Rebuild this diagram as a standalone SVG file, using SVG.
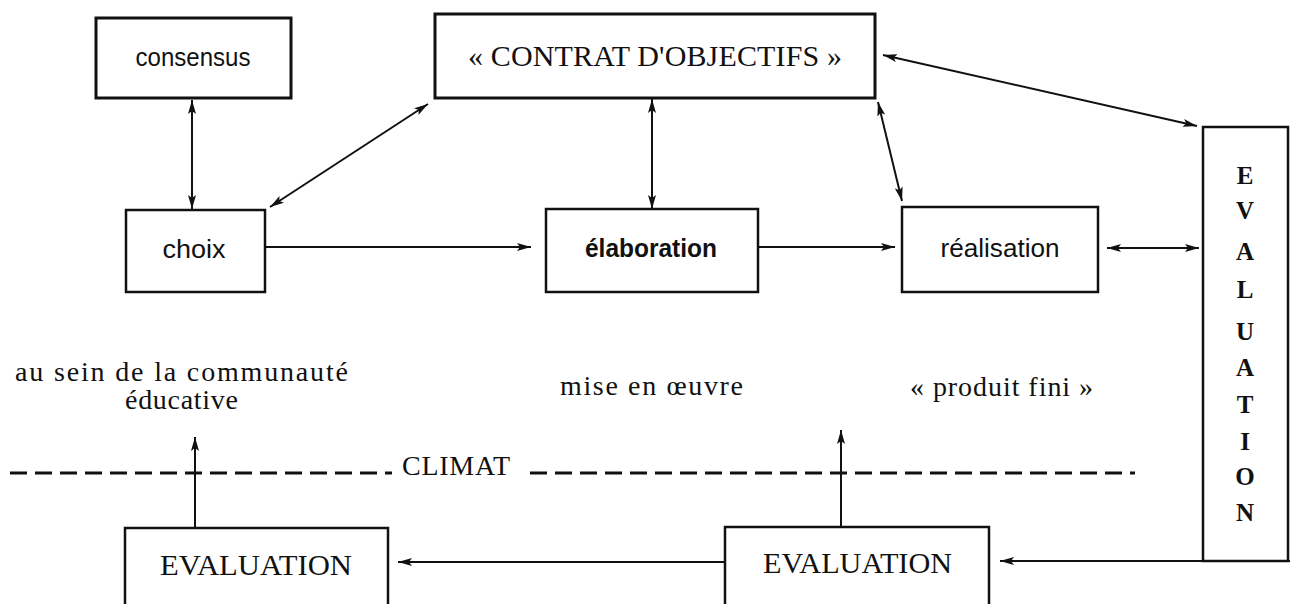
<svg xmlns="http://www.w3.org/2000/svg" width="1290" height="604" viewBox="0 0 1290 604">
<style>
.box{fill:#fff;stroke:#111;stroke-width:2.5}
.thick{stroke-width:3}
.lbl{font-family:"Liberation Sans",Arial,sans-serif;font-size:26px;fill:#111;text-anchor:middle}
.ser{font-family:"Liberation Serif","Times New Roman",serif;font-size:28px;fill:#111}
.big{font-size:30px}
.vert{font-family:"Liberation Serif","Times New Roman",serif;font-size:25px;font-weight:bold;fill:#111;text-anchor:middle}
.ln{fill:none;stroke:#111;stroke-width:2}
.dash{fill:none;stroke:#111;stroke-width:3;stroke-dasharray:17 8}
</style>
<defs>
<marker id="ah" viewBox="0 0 14 8" refX="14" refY="4" markerWidth="14" markerHeight="8" markerUnits="userSpaceOnUse" orient="auto-start-reverse">
<path d="M0,0 L14,4 L0,8 L3,4 Z" fill="#111"/>
</marker>
</defs>
<rect width="1290" height="604" fill="#fff"/>

<g id="connectors">
<line class="ln" x1="192" y1="100" x2="192" y2="209" marker-start="url(#ah)" marker-end="url(#ah)"/>
<line class="ln" x1="270" y1="207" x2="428" y2="104" marker-start="url(#ah)" marker-end="url(#ah)"/>
<line class="ln" x1="265" y1="247" x2="531" y2="247" marker-end="url(#ah)"/>
<line class="ln" x1="652" y1="99" x2="652" y2="209" marker-start="url(#ah)" marker-end="url(#ah)"/>
<line class="ln" x1="758" y1="247" x2="895" y2="247" marker-end="url(#ah)"/>
<line class="ln" x1="878" y1="102" x2="902" y2="201" marker-start="url(#ah)" marker-end="url(#ah)"/>
<line class="ln" x1="883" y1="55" x2="1197" y2="126" marker-start="url(#ah)" marker-end="url(#ah)"/>
<line class="ln" x1="1107" y1="248" x2="1199" y2="248" marker-start="url(#ah)" marker-end="url(#ah)"/>
<line class="ln" x1="1290" y1="561" x2="1000" y2="561" stroke-width="3" marker-end="url(#ah)"/>
<line class="ln" x1="725" y1="562" x2="398" y2="562" marker-end="url(#ah)"/>
<line class="ln" x1="195" y1="528" x2="195" y2="437" marker-end="url(#ah)"/>
<line class="ln" x1="841" y1="527" x2="841" y2="430" stroke-width="2.5" marker-end="url(#ah)"/>
<line class="dash" x1="10" y1="473" x2="392" y2="473"/>
<line class="dash" x1="530" y1="473" x2="1135" y2="473"/>
</g>

<g id="consensus">
<rect class="box thick" x="96" y="18" width="195" height="80"/>
<text class="lbl" x="193" y="66" textLength="115" lengthAdjust="spacingAndGlyphs">consensus</text>
</g>
<g id="contrat">
<rect class="box thick" x="435" y="14" width="440" height="84"/>
<text class="ser big" x="468" y="66" textLength="374" lengthAdjust="spacing">« CONTRAT D'OBJECTIFS »</text>
</g>
<g id="choix">
<rect class="box" x="126" y="210" width="139" height="82"/>
<text class="lbl" x="194" y="258" textLength="63" lengthAdjust="spacingAndGlyphs">choix</text>
</g>
<g id="elaboration">
<rect class="box" x="546" y="209" width="212" height="83"/>
<text class="lbl" x="651" y="257" textLength="132" lengthAdjust="spacingAndGlyphs" font-weight="bold">élaboration</text>
</g>
<g id="realisation">
<rect class="box" x="902" y="207" width="196" height="85"/>
<text class="lbl" x="1000" y="257" textLength="119" lengthAdjust="spacingAndGlyphs">réalisation</text>
</g>
<g id="evaluation-vertical">
<rect class="box" x="1203" y="127" width="85" height="434"/>
<text class="vert" x="1245" y="184">E</text>
<text class="vert" x="1245" y="219">V</text>
<text class="vert" x="1245" y="260">A</text>
<text class="vert" x="1245" y="298">L</text>
<text class="vert" x="1245" y="340">U</text>
<text class="vert" x="1245" y="376">A</text>
<text class="vert" x="1245" y="413">T</text>
<text class="vert" x="1245" y="450">I</text>
<text class="vert" x="1245" y="485">O</text>
<text class="vert" x="1245" y="521">N</text>
</g>
<g id="evaluation-left">
<rect class="box" x="125" y="528" width="263" height="100"/>
<text class="ser big" x="160" y="575" textLength="192" lengthAdjust="spacingAndGlyphs">EVALUATION</text>
</g>
<g id="evaluation-middle">
<rect class="box" x="725" y="527" width="264" height="100"/>
<text class="ser big" x="763" y="573" textLength="189" lengthAdjust="spacingAndGlyphs">EVALUATION</text>
</g>
<g id="labels">
<text class="ser" x="15" y="381" textLength="333" lengthAdjust="spacing">au sein de la communauté</text>
<text class="ser" x="125" y="409" textLength="113" lengthAdjust="spacing">éducative</text>
<text class="ser" x="560" y="395" textLength="183" lengthAdjust="spacing">mise en œuvre</text>
<text class="ser" x="910" y="396" textLength="183" lengthAdjust="spacing">« produit fini »</text>
<text class="ser" x="402" y="475" textLength="108" lengthAdjust="spacing">CLIMAT</text>
</g>
</svg>
